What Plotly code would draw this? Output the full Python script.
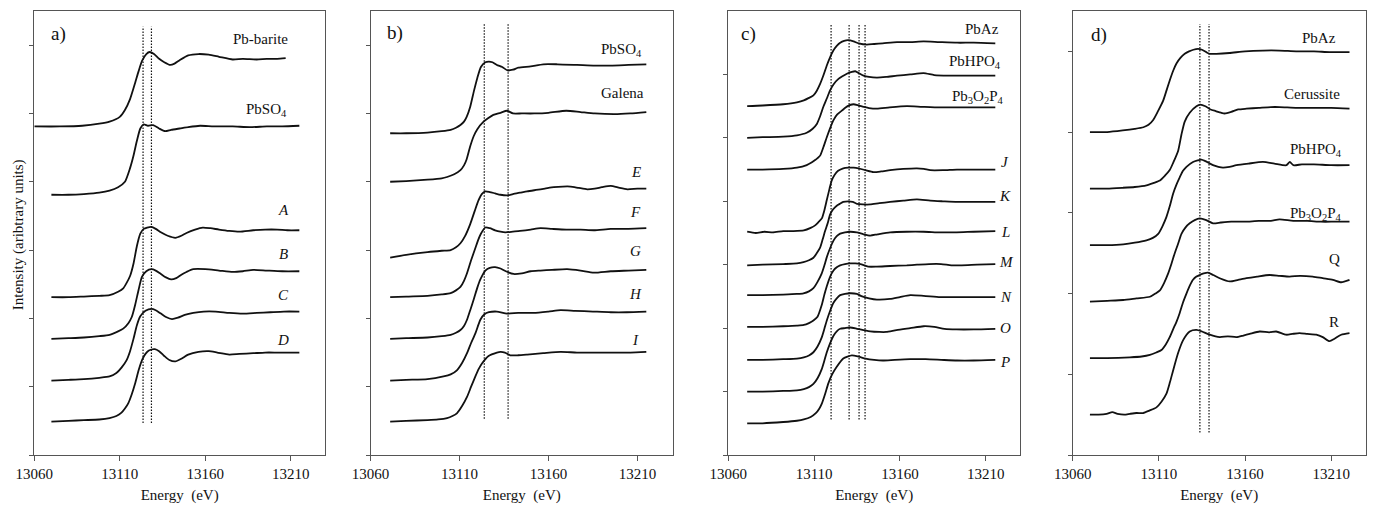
import plotly.graph_objects as go

# ---------------- panel a) ----------------
a_barite_e = [13060, 13075, 13088, 13098, 13104, 13110, 13113, 13116, 13119, 13121, 13123, 13125.5, 13127.5, 13130,
              13133, 13136, 13139.5, 13142, 13145, 13150, 13156, 13162, 13168, 13176, 13182, 13190, 13196, 13202, 13207]
a_barite_i = [4.81, 4.81, 4.82, 4.85, 4.88, 4.95, 5.05, 5.21, 5.45, 5.62, 5.77, 5.87, 5.90, 5.87,
              5.80, 5.75, 5.71, 5.73, 5.78, 5.85, 5.87, 5.86, 5.83, 5.79, 5.80, 5.79, 5.80, 5.80, 5.81]

a_pbso4_e = [13070, 13080, 13089, 13098, 13104, 13109, 13113, 13116, 13118, 13120, 13122, 13124, 13126.5, 13129.5,
             13133, 13136.5, 13140, 13145, 13150, 13157, 13165, 13176, 13186, 13196, 13205, 13215]
a_pbso4_i = [3.81, 3.81, 3.82, 3.84, 3.87, 3.92, 4.00, 4.20, 4.38, 4.60, 4.78, 4.84, 4.82, 4.83,
             4.78, 4.74, 4.76, 4.78, 4.80, 4.82, 4.81, 4.81, 4.80, 4.81, 4.81, 4.82]

a_A_e = [13070, 13080, 13089, 13098, 13104, 13109, 13112, 13114, 13116, 13118, 13120, 13122, 13124, 13126, 13128.5,
         13131, 13134, 13138, 13142.5, 13146, 13149, 13154, 13158.5, 13163, 13168, 13174, 13180, 13188, 13195, 13202,
         13208, 13215]
a_A_i = [2.31, 2.31, 2.32, 2.33, 2.34, 2.39, 2.44, 2.52, 2.62, 2.80, 3.06, 3.24, 3.31, 3.33, 3.34,
         3.31, 3.26, 3.21, 3.18, 3.21, 3.25, 3.30, 3.33, 3.32, 3.30, 3.28, 3.27, 3.29, 3.30, 3.30,
         3.29, 3.29]

a_B_e = [13070, 13080, 13089, 13098, 13104, 13109, 13112, 13115, 13117, 13119, 13121, 13123, 13125.5, 13128.5,
         13131, 13134, 13137, 13140, 13143, 13146, 13149, 13153, 13160, 13168, 13176, 13182, 13188, 13196, 13205, 13215]
a_B_i = [1.70, 1.71, 1.72, 1.74, 1.76, 1.81, 1.85, 1.93, 2.02, 2.20, 2.42, 2.61, 2.69, 2.72,
         2.70, 2.65, 2.60, 2.57, 2.59, 2.64, 2.68, 2.72, 2.72, 2.70, 2.68, 2.69, 2.71, 2.70, 2.69, 2.69]

a_C_e = [13070, 13080, 13089, 13098, 13104, 13108, 13111, 13114, 13116, 13118, 13120, 13122, 13125, 13128.5,
         13131, 13134, 13137, 13140.5, 13144, 13148, 13153, 13159, 13166, 13174, 13182, 13190, 13198, 13206, 13215]
a_C_i = [1.09, 1.10, 1.11, 1.13, 1.15, 1.20, 1.28, 1.39, 1.52, 1.70, 1.90, 2.03, 2.11, 2.14,
         2.12, 2.07, 2.02, 1.99, 2.01, 2.05, 2.08, 2.10, 2.10, 2.08, 2.07, 2.08, 2.09, 2.10, 2.10]

a_D_e = [13070, 13080, 13089, 13098, 13104, 13108, 13111, 13113, 13115, 13117, 13119, 13121, 13123, 13125, 13127,
         13130.5, 13133, 13136, 13139, 13142.5, 13146, 13150, 13156, 13162, 13167, 13174, 13180, 13188, 13195, 13202,
         13208, 13215]
a_D_i = [0.49, 0.50, 0.51, 0.52, 0.54, 0.57, 0.62, 0.68, 0.76, 0.89, 1.05, 1.24, 1.39, 1.48, 1.53,
         1.55, 1.52, 1.45, 1.39, 1.37, 1.41, 1.47, 1.51, 1.52, 1.50, 1.47, 1.48, 1.49, 1.50, 1.50,
         1.50, 1.50]

# ---------------- panel b) ----------------
b_pbso4_e = [13071, 13080, 13092, 13100, 13105, 13108, 13110.5, 13112.5, 13114, 13116, 13118, 13120, 13122, 13124.5,
             13126.5, 13128.5, 13131, 13134, 13137, 13140, 13143, 13150, 13157, 13165, 13176, 13186, 13195, 13205, 13215]
b_pbso4_i = [4.71, 4.71, 4.72, 4.74, 4.76, 4.79, 4.83, 4.88, 4.95, 5.10, 5.32, 5.52, 5.68, 5.75,
             5.76, 5.75, 5.71, 5.68, 5.63, 5.64, 5.67, 5.69, 5.72, 5.72, 5.71, 5.70, 5.70, 5.71, 5.72]

b_galena_e = [13071, 13080, 13092, 13100, 13103, 13107, 13110.5, 13112.5, 13114, 13116, 13118, 13120, 13123.5, 13126,
              13129, 13133, 13136.7, 13140, 13145, 13152, 13160, 13170, 13178, 13186, 13197, 13206, 13215]
b_galena_i = [4.00, 4.01, 4.03, 4.05, 4.07, 4.11, 4.17, 4.24, 4.33, 4.52, 4.67, 4.77, 4.88, 4.93,
              4.98, 5.01, 5.04, 5.00, 5.00, 5.00, 5.01, 5.04, 5.02, 5.00, 4.99, 5.00, 5.02]

b_E_e = [13071, 13080, 13092, 13100, 13105, 13108, 13110.5, 13113, 13116, 13118.5, 13120.7, 13122.5, 13124.5, 13127,
         13130, 13133, 13136.7, 13140, 13144, 13148, 13153, 13158, 13163, 13168, 13172.4, 13177, 13181.8, 13186, 13190,
         13195, 13200, 13204.4, 13210, 13215]
b_E_i = [2.89, 2.93, 2.97, 2.99, 3.00, 3.04, 3.10, 3.20, 3.38, 3.57, 3.73, 3.82, 3.86, 3.85,
         3.83, 3.81, 3.80, 3.82, 3.84, 3.86, 3.88, 3.90, 3.92, 3.93, 3.93, 3.91, 3.89, 3.90, 3.92,
         3.94, 3.91, 3.89, 3.90, 3.90]

b_F_e = [13071, 13080, 13092, 13100, 13105, 13108, 13110.5, 13112.5, 13114.2, 13116.5, 13118.9, 13120.5, 13122, 13124.5,
         13127, 13130, 13133, 13135.8, 13140, 13144, 13150, 13155.5, 13162, 13170, 13178, 13185.5, 13195, 13205, 13215]
b_F_i = [2.31, 2.32, 2.33, 2.35, 2.37, 2.41, 2.46, 2.55, 2.66, 2.85, 3.03, 3.15, 3.24, 3.33,
         3.32, 3.29, 3.27, 3.26, 3.27, 3.28, 3.30, 3.32, 3.31, 3.30, 3.30, 3.29, 3.31, 3.31, 3.32]

b_G_e = [13071, 13080, 13092, 13100, 13105, 13108, 13110.5, 13112.5, 13114.2, 13116, 13118, 13120, 13121.7, 13124.5,
         13127, 13130, 13133, 13136, 13140.4, 13145, 13150, 13155.5, 13162, 13170.5, 13178, 13185.5, 13195, 13205, 13215]
b_G_i = [1.70, 1.71, 1.72, 1.74, 1.76, 1.79, 1.83, 1.89, 1.98, 2.12, 2.28, 2.45, 2.57, 2.70,
         2.74, 2.75, 2.73, 2.69, 2.65, 2.66, 2.69, 2.70, 2.71, 2.72, 2.70, 2.67, 2.69, 2.70, 2.71]

b_H_e = [13071, 13080, 13092, 13101, 13105, 13108.5, 13111.5, 13114.2, 13116.5, 13118.9, 13121.7, 13124, 13126.5,
         13131, 13136.7, 13143, 13151.7, 13160, 13166.8, 13175, 13185, 13195, 13204, 13215]
b_H_i = [1.09, 1.10, 1.11, 1.15, 1.18, 1.24, 1.35, 1.49, 1.64, 1.78, 1.98, 2.06, 2.09,
         2.10, 2.07, 2.08, 2.08, 2.10, 2.12, 2.11, 2.10, 2.09, 2.09, 2.10]

b_I_e = [13071, 13080, 13092, 13098, 13103, 13106, 13108.5, 13111.5, 13114.2, 13116.5, 13118.9, 13120.8, 13122.6,
         13126.3, 13131, 13133, 13135.5, 13138.5, 13143, 13148, 13157, 13166.8, 13176, 13186, 13196, 13206, 13215]
b_I_i = [0.49, 0.50, 0.51, 0.52, 0.54, 0.57, 0.61, 0.72, 0.85, 1.00, 1.15, 1.26, 1.34,
         1.45, 1.50, 1.51, 1.50, 1.46, 1.46, 1.47, 1.49, 1.51, 1.50, 1.50, 1.50, 1.50, 1.51]

# ---------------- panel c) ----------------
c_pbaz_e = [13071, 13080, 13092, 13100, 13104, 13107, 13109.6, 13111.5, 13113.5, 13115.5, 13117.4, 13119.3, 13121.3,
            13123.2, 13125.2, 13127.5, 13130, 13133, 13136, 13140.7, 13145, 13150, 13158.3, 13166, 13173.8, 13183,
            13193.3, 13203, 13215.6]
c_pbaz_i = [5.50, 5.51, 5.53, 5.56, 5.59, 5.63, 5.67, 5.74, 5.85, 5.99, 6.14, 6.27, 6.38,
            6.45, 6.50, 6.53, 6.54, 6.52, 6.49, 6.47, 6.48, 6.49, 6.51, 6.51, 6.52, 6.51,
            6.50, 6.50, 6.49]

c_pbhpo4_e = [13071, 13080, 13092, 13100, 13105.7, 13109, 13111.6, 13113.5, 13115.4, 13117.4, 13119.3, 13121.5,
              13124.2, 13126.5, 13129.1, 13132, 13134, 13136, 13138.8, 13142, 13146.6, 13152, 13158.3, 13166, 13173.8,
              13180, 13188, 13196, 13205, 13215.6]
c_pbhpo4_i = [5.00, 5.01, 5.02, 5.04, 5.08, 5.14, 5.22, 5.34, 5.49, 5.62, 5.75, 5.85,
              5.93, 5.97, 6.01, 6.04, 6.05, 6.02, 5.98, 5.96, 5.95, 5.96, 5.98, 6.00, 6.02,
              5.99, 5.98, 5.98, 5.98, 5.98]

c_pb3o2p4_e = [13071, 13080, 13092, 13100, 13105.7, 13108.5, 13110.6, 13112, 13113.5, 13115.5, 13117.4, 13119.3,
               13121.3, 13123.5, 13126.2, 13129.5, 13132.9, 13136, 13138.8, 13142, 13146.6, 13154, 13164.1, 13173,
               13183.5, 13193, 13204, 13215.6]
c_pb3o2p4_i = [4.50, 4.50, 4.51, 4.53, 4.57, 4.61, 4.65, 4.68, 4.72, 4.86, 5.01, 5.15,
               5.28, 5.37, 5.43, 5.50, 5.53, 5.51, 5.49, 5.47, 5.46, 5.48, 5.50, 5.49,
               5.48, 5.48, 5.48, 5.48]

c_J_e = [13071, 13076, 13081, 13086, 13092, 13098, 13104, 13108, 13110.6, 13112.5, 13114.5, 13116, 13117.4, 13119,
         13120.3, 13122, 13124, 13127, 13130, 13133, 13135.8, 13140, 13144.6, 13149, 13154.3, 13162, 13169.9, 13174,
         13177.7, 13185, 13193.3, 13203, 13215.6]
c_J_i = [3.52, 3.50, 3.52, 3.51, 3.53, 3.53, 3.54, 3.58, 3.62, 3.67, 3.73, 3.86, 4.02, 4.20,
         4.33, 4.42, 4.48, 4.52, 4.53, 4.53, 4.52, 4.49, 4.46, 4.47, 4.49, 4.51, 4.52, 4.51,
         4.49, 4.49, 4.50, 4.50, 4.50]

c_K_e = [13071, 13080, 13092, 13100, 13103.8, 13107, 13109.6, 13111.5, 13113.5, 13115, 13116.4, 13118, 13119.3, 13121,
         13123.2, 13125, 13127, 13130, 13132.5, 13135, 13138.5, 13142.7, 13148, 13154.3, 13162, 13169.9, 13177.7,
         13185, 13193.3, 13203, 13215.6]
c_K_i = [2.99, 3.00, 3.01, 3.02, 3.04, 3.07, 3.11, 3.18, 3.27, 3.40, 3.53, 3.66, 3.79, 3.87,
         3.93, 3.96, 3.99, 4.00, 3.99, 3.96, 3.95, 3.95, 3.97, 3.99, 4.01, 4.03, 4.01,
         4.00, 3.99, 3.99, 3.99]

c_L_e = [13071, 13080, 13092, 13100, 13103.8, 13107, 13109.6, 13112, 13114.4, 13116, 13117.4, 13119.3, 13121.3, 13123.2,
         13125.2, 13128, 13131, 13134.9, 13138.8, 13142.7, 13147, 13154.3, 13164, 13173.8, 13183.5, 13193, 13203,
         13215.6]
c_L_i = [2.52, 2.52, 2.53, 2.54, 2.55, 2.58, 2.63, 2.73, 2.86, 2.99, 3.12, 3.26, 3.38, 3.45,
         3.49, 3.51, 3.52, 3.51, 3.48, 3.46, 3.48, 3.51, 3.52, 3.52, 3.51, 3.51, 3.52,
         3.53]

c_M_e = [13071, 13080, 13092, 13100, 13104, 13107, 13109.6, 13112, 13114.4, 13116, 13117.4, 13119.3, 13121.3, 13123.2,
         13125.2, 13128, 13131, 13134, 13137, 13141.5, 13146.6, 13154.3, 13164, 13170, 13177, 13184, 13190, 13196,
         13205, 13215.6]
c_M_i = [2.02, 2.02, 2.03, 2.04, 2.05, 2.08, 2.12, 2.18, 2.36, 2.53, 2.66, 2.81, 2.91, 2.96,
         2.99, 3.01, 3.02, 3.02, 3.01, 2.97, 2.97, 2.98, 2.99, 3.00, 3.01, 3.01, 2.99, 2.99,
         3.00, 3.01]

c_N_e = [13071, 13080, 13092, 13100, 13104, 13107, 13109.6, 13112, 13114.4, 13116, 13117.4, 13119.3, 13121.3, 13123.2,
         13125.2, 13128, 13131, 13134.9, 13138, 13142, 13146.6, 13154.3, 13160, 13166, 13173.8, 13183.5, 13193, 13203,
         13215.6]
c_N_i = [1.50, 1.50, 1.51, 1.52, 1.54, 1.57, 1.62, 1.71, 1.85, 1.99, 2.12, 2.27, 2.40, 2.47,
         2.52, 2.54, 2.55, 2.54, 2.50, 2.47, 2.45, 2.46, 2.49, 2.52, 2.51, 2.49, 2.49, 2.49,
         2.49]

c_O_e = [13071, 13080, 13092, 13100, 13104, 13107, 13109.6, 13112, 13114.4, 13116, 13117.4, 13119.3, 13121.3, 13123.2,
         13125.2, 13128, 13131, 13135, 13138.8, 13142.7, 13148, 13152, 13158, 13166, 13173.8, 13180, 13186, 13193,
         13203, 13215.6]
c_O_i = [1.00, 1.00, 1.01, 1.02, 1.04, 1.07, 1.12, 1.21, 1.35, 1.49, 1.62, 1.76, 1.88, 1.95,
         1.99, 2.00, 2.01, 1.99, 1.97, 1.95, 1.94, 1.94, 1.97, 2.00, 2.03, 2.02, 1.99, 1.98,
         1.98, 1.99]

c_P_e = [13071, 13080, 13092, 13100, 13104, 13108, 13111, 13113, 13114.5, 13116.5, 13118.3, 13120.5, 13123.2, 13127,
         13132, 13136, 13140, 13145, 13150, 13157, 13166, 13175, 13184, 13193.3, 13203, 13215.6]
c_P_i = [0.50, 0.50, 0.52, 0.54, 0.56, 0.60, 0.66, 0.73, 0.81, 0.97, 1.13, 1.27, 1.39, 1.52,
         1.57, 1.55, 1.52, 1.50, 1.49, 1.50, 1.51, 1.51, 1.50, 1.49, 1.49, 1.50]

# ---------------- panel d) ----------------
d_pbaz_e = [13070, 13080, 13089, 13096, 13101, 13104, 13106.7, 13109.5, 13112.5, 13114.5, 13116.3, 13118.3, 13120.2,
            13122.5, 13125, 13127.5, 13130, 13132.7, 13135, 13137.5, 13139.5, 13143.4, 13151, 13160, 13170.4, 13180,
            13189.7, 13200, 13209, 13220.6]
d_pbaz_i = [4.00, 4.00, 4.02, 4.04, 4.06, 4.09, 4.15, 4.26, 4.39, 4.52, 4.64, 4.76, 4.85,
            4.92, 4.97, 5.00, 5.02, 5.03, 5.02, 4.99, 4.97, 4.97, 4.98, 5.00, 5.01, 5.01,
            5.00, 5.00, 4.99, 4.99]

d_cerussite_e = [13070, 13080, 13089, 13096, 13102.8, 13107, 13110.6, 13113.5, 13116.3, 13118.3, 13121.2, 13123.1,
                 13125, 13127.9, 13131.8, 13134, 13137, 13140, 13143, 13146, 13148.2, 13152, 13156, 13160.8, 13168,
                 13175, 13180, 13190, 13200, 13210, 13220.6]
d_cerussite_i = [3.30, 3.30, 3.31, 3.32, 3.34, 3.37, 3.40, 3.46, 3.53, 3.62, 3.77, 3.97,
                 4.13, 4.24, 4.32, 4.34, 4.32, 4.28, 4.26, 4.24, 4.23, 4.25, 4.28, 4.29, 4.30,
                 4.31, 4.31, 4.30, 4.30, 4.30, 4.29]

d_pbhpo4_e = [13070, 13080, 13089.3, 13096, 13102.8, 13106.5, 13109.6, 13112, 13114.4, 13116.3, 13118.3, 13120.2,
              13122.1, 13124, 13126, 13129.8, 13132.5, 13134.7, 13137, 13141.4, 13144.5, 13147.2, 13151, 13155, 13162,
              13170.4, 13177, 13184, 13186, 13188, 13193, 13200, 13210, 13220.6]
d_pbhpo4_i = [2.60, 2.60, 2.61, 2.63, 2.66, 2.69, 2.74, 2.83, 2.95, 3.08, 3.24, 3.35,
              3.44, 3.52, 3.57, 3.63, 3.65, 3.66, 3.64, 3.59, 3.57, 3.56, 3.57, 3.59, 3.61,
              3.63, 3.61, 3.59, 3.63, 3.59, 3.60, 3.60, 3.59, 3.59]

d_pb3o2p4_e = [13070, 13080, 13089.3, 13097, 13104.8, 13108, 13110.6, 13113, 13115.4, 13117.3, 13119.2, 13121.2,
               13123.1, 13125.5, 13127.9, 13130.8, 13133.7, 13137.5, 13141.4, 13146, 13152, 13160, 13168, 13175,
               13180, 13188, 13196, 13204, 13212, 13220.6]
d_pb3o2p4_i = [1.90, 1.91, 1.92, 1.94, 1.96, 2.00, 2.04, 2.13, 2.25, 2.37, 2.50, 2.62,
               2.74, 2.82, 2.87, 2.91, 2.93, 2.91, 2.87, 2.88, 2.89, 2.89, 2.90, 2.90,
               2.92, 2.90, 2.90, 2.89, 2.89, 2.89]

d_Q_e = [13070, 13080, 13093.2, 13100, 13104.8, 13108.5, 13111.5, 13114, 13116.3, 13118.3, 13120.2, 13122.1, 13124,
         13126, 13128, 13129.8, 13131.8, 13133.7, 13136, 13138.5, 13141.5, 13145.3, 13151.1, 13156, 13160.8, 13167,
         13174.2, 13180, 13185.8, 13192, 13199.3, 13205, 13211, 13215.8, 13220.6]
d_Q_i = [1.20, 1.20, 1.21, 1.22, 1.24, 1.27, 1.30, 1.37, 1.46, 1.56, 1.65, 1.76, 1.89,
         2.00, 2.10, 2.17, 2.21, 2.23, 2.25, 2.26, 2.23, 2.19, 2.15, 2.17, 2.19, 2.21,
         2.23, 2.22, 2.21, 2.22, 2.21, 2.19, 2.17, 2.14, 2.17]

d_R_e = [13070, 13075, 13079.7, 13083, 13086, 13090, 13093.2, 13097, 13100.9, 13104.5, 13108.6, 13111.5, 13114.4,
         13116.4, 13118.3, 13121.1, 13124, 13127.9, 13131.8, 13135, 13139.5, 13145.3, 13150, 13155, 13159, 13162.7,
         13168.5, 13174, 13178.1, 13183.9, 13187.5, 13191.6, 13196, 13201.3, 13205.1, 13209, 13211.9, 13215.8, 13220.6]
d_R_i = [0.50, 0.50, 0.51, 0.53, 0.51, 0.50, 0.51, 0.52, 0.52, 0.55, 0.59, 0.66, 0.76,
         0.90, 1.05, 1.26, 1.42, 1.53, 1.55, 1.53, 1.49, 1.46, 1.47, 1.46, 1.48, 1.50,
         1.53, 1.52, 1.53, 1.49, 1.50, 1.51, 1.50, 1.49, 1.46, 1.41, 1.44, 1.49, 1.51]

# Reference energies (dotted lines) and their vertical extent, per panel
ref_energies = [[13123.6, 13128.5], [13123.9, 13137.3], [13119.9, 13130.4, 13136.2, 13139.7], [13133.8, 13139.1]]
ref_spans = [(0.47, 6.27), (0.53, 6.32), (0.56, 6.80), (0.28, 5.34)]

# Axis settings
x_range = [13060, 13230]
x_ticks = [13060, 13110, 13160, 13210]
x_ticklabels = ["13060", "13110", "13160", "13210"]
y_ranges = [[0, 6.5], [0, 6.5], [0, 7], [0, 5.5]]
y_ticks = [[0, 1, 2, 3, 4, 5, 6], [0, 1, 2, 3, 4, 5, 6], [0, 1, 2, 3, 4, 5, 6], [0, 1, 2, 3, 4, 5]]
x_domains = [[0.02498, 0.23671], [0.26992, 0.49017], [0.53045, 0.74290], [0.78128, 0.99468]]
panel_tags = ["a)", "b)", "c)", "d)"]
panel_tag_pos = [(13074.4, 6.16), (13073.8, 6.18), (13071.5, 6.63), (13075.2, 5.20)]

spectra = [
    (0, a_barite_e, a_barite_i), (0, a_pbso4_e, a_pbso4_i), (0, a_A_e, a_A_i), (0, a_B_e, a_B_i),
    (0, a_C_e, a_C_i), (0, a_D_e, a_D_i),
    (1, b_pbso4_e, b_pbso4_i), (1, b_galena_e, b_galena_i), (1, b_E_e, b_E_i), (1, b_F_e, b_F_i),
    (1, b_G_e, b_G_i), (1, b_H_e, b_H_i), (1, b_I_e, b_I_i),
    (2, c_pbaz_e, c_pbaz_i), (2, c_pbhpo4_e, c_pbhpo4_i), (2, c_pb3o2p4_e, c_pb3o2p4_i),
    (2, c_J_e, c_J_i), (2, c_K_e, c_K_i), (2, c_L_e, c_L_i), (2, c_M_e, c_M_i),
    (2, c_N_e, c_N_i), (2, c_O_e, c_O_i), (2, c_P_e, c_P_i),
    (3, d_pbaz_e, d_pbaz_i), (3, d_cerussite_e, d_cerussite_i), (3, d_pbhpo4_e, d_pbhpo4_i),
    (3, d_pb3o2p4_e, d_pb3o2p4_i), (3, d_Q_e, d_Q_i), (3, d_R_e, d_R_i),
]

# Sample names: (panel, text, energy, intensity, italic)
sample_labels = [
    (0, "Pb-barite", 13192.3, 6.09, False), (0, "PbSO<sub>4</sub>", 13195.9, 5.05, False),
    (0, "A", 13205.7, 3.59, True), (0, "B", 13205.7, 2.94, True),
    (0, "C", 13205.7, 2.34, True), (0, "D", 13205.7, 1.68, True),
    (1, "PbSO<sub>4</sub>", 13201.0, 5.93, False), (1, "Galena", 13201.5, 5.30, False),
    (1, "E", 13209.0, 4.15, True), (1, "F", 13209.0, 3.56, True), (1, "G", 13209.0, 2.99, True),
    (1, "H", 13209.0, 2.35, True), (1, "I", 13209.0, 1.68, True),
    (2, "PbAz", 13207.8, 6.72, False), (2, "PbHPO<sub>4</sub>", 13204.0, 6.19, False),
    (2, "Pb<sub>3</sub>O<sub>2</sub>P<sub>4</sub>", 13205.4, 5.64, False),
    (2, "J", 13221.4, 4.62, True), (2, "K", 13221.4, 4.09, True), (2, "L", 13221.4, 3.52, True),
    (2, "M", 13222.0, 3.04, True), (2, "N", 13222.0, 2.49, True), (2, "O", 13221.4, 2.00, True),
    (2, "P", 13221.4, 1.47, True),
    (3, "PbAz", 13203.0, 5.16, False), (3, "Cerussite", 13198.9, 4.47, False),
    (3, "PbHPO<sub>4</sub>", 13200.9, 3.78, False),
    (3, "Pb<sub>3</sub>O<sub>2</sub>P<sub>4</sub>", 13200.9, 2.99, False),
    (3, "Q", 13211.9, 2.43, False), (3, "R", 13211.9, 1.65, False),
]

SERIF = "Liberation Serif, Times New Roman, serif"
FRAME = "#555555"
INK = "#111111"


def axis_suffix(k):
    return "" if k == 0 else str(k + 1)


fig = go.Figure()

for panel, e, i in spectra:
    s = axis_suffix(panel)
    fig.add_trace(go.Scatter(
        x=e, y=i, mode="lines", xaxis="x" + s, yaxis="y" + s,
        line=dict(color=INK, width=1.8, shape="spline", smoothing=0.6),
        hoverinfo="skip", showlegend=False))

for panel, (energies, span) in enumerate(zip(ref_energies, ref_spans)):
    s = axis_suffix(panel)
    for en in energies:
        fig.add_trace(go.Scatter(
            x=[en, en], y=list(span), mode="lines", xaxis="x" + s, yaxis="y" + s,
            line=dict(color=INK, width=1.2, dash="1.5px,1.5px"),
            hoverinfo="skip", showlegend=False))

layout = dict(
    width=1373, height=505,
    margin=dict(l=0, r=0, t=11, b=50, autoexpand=False),
    paper_bgcolor="white", plot_bgcolor="white",
    font=dict(family=SERIF, size=15, color=INK),
    showlegend=False,
)

for k in range(4):
    s = axis_suffix(k)
    layout["xaxis" + s] = dict(
        domain=x_domains[k], range=x_range, tickvals=x_ticks, ticktext=x_ticklabels,
        ticks="outside", ticklen=5, tickcolor=FRAME, tickwidth=1,
        showline=True, linecolor=FRAME, linewidth=1, mirror=True,
        showgrid=False, zeroline=False, anchor="y" + s, automargin=False,
        tickfont=dict(family=SERIF, size=15, color=INK),
        title=dict(text="Energy\u00a0\u00a0(eV)", font=dict(family=SERIF, size=15, color=INK), standoff=8),
    )
    layout["yaxis" + s] = dict(
        domain=[0, 1], range=y_ranges[k], tickvals=y_ticks[k],
        ticks="outside", ticklen=4, tickcolor=FRAME, tickwidth=1,
        showticklabels=False, showline=True, linecolor=FRAME, linewidth=1, mirror=True,
        showgrid=False, zeroline=False, anchor="x" + s, automargin=False,
    )
    # inner half of the crossing tick marks
    layout["yaxis" + str(k + 5)] = dict(
        overlaying="y" + s, anchor="x" + s, side="left",
        range=y_ranges[k], tickvals=y_ticks[k],
        ticks="inside", ticklen=4, tickcolor=FRAME, tickwidth=1,
        showticklabels=False, showline=False, showgrid=False, zeroline=False, automargin=False,
    )

fig.update_layout(**layout)

annotations = []
for panel, text, en, val, italic in sample_labels:
    s = axis_suffix(panel)
    annotations.append(dict(
        x=en, y=val, xref="x" + s, yref="y" + s, showarrow=False,
        text=f"<i>{text}</i>" if italic else text,
        font=dict(family=SERIF, size=15, color=INK), xanchor="center", yanchor="middle"))

for k, tag in enumerate(panel_tags):
    s = axis_suffix(k)
    annotations.append(dict(
        x=panel_tag_pos[k][0], y=panel_tag_pos[k][1], xref="x" + s, yref="y" + s, showarrow=False,
        text=tag, font=dict(family=SERIF, size=19, color=INK), xanchor="center", yanchor="middle"))

annotations.append(dict(
    x=18 / 1373, y=0.495, xref="paper", yref="paper", showarrow=False,
    text="Intensity (aribtrary units)", textangle=-90,
    font=dict(family=SERIF, size=15, color=INK), xanchor="center", yanchor="middle"))

fig.update_layout(annotations=annotations)

fig.write_html("out.html")
